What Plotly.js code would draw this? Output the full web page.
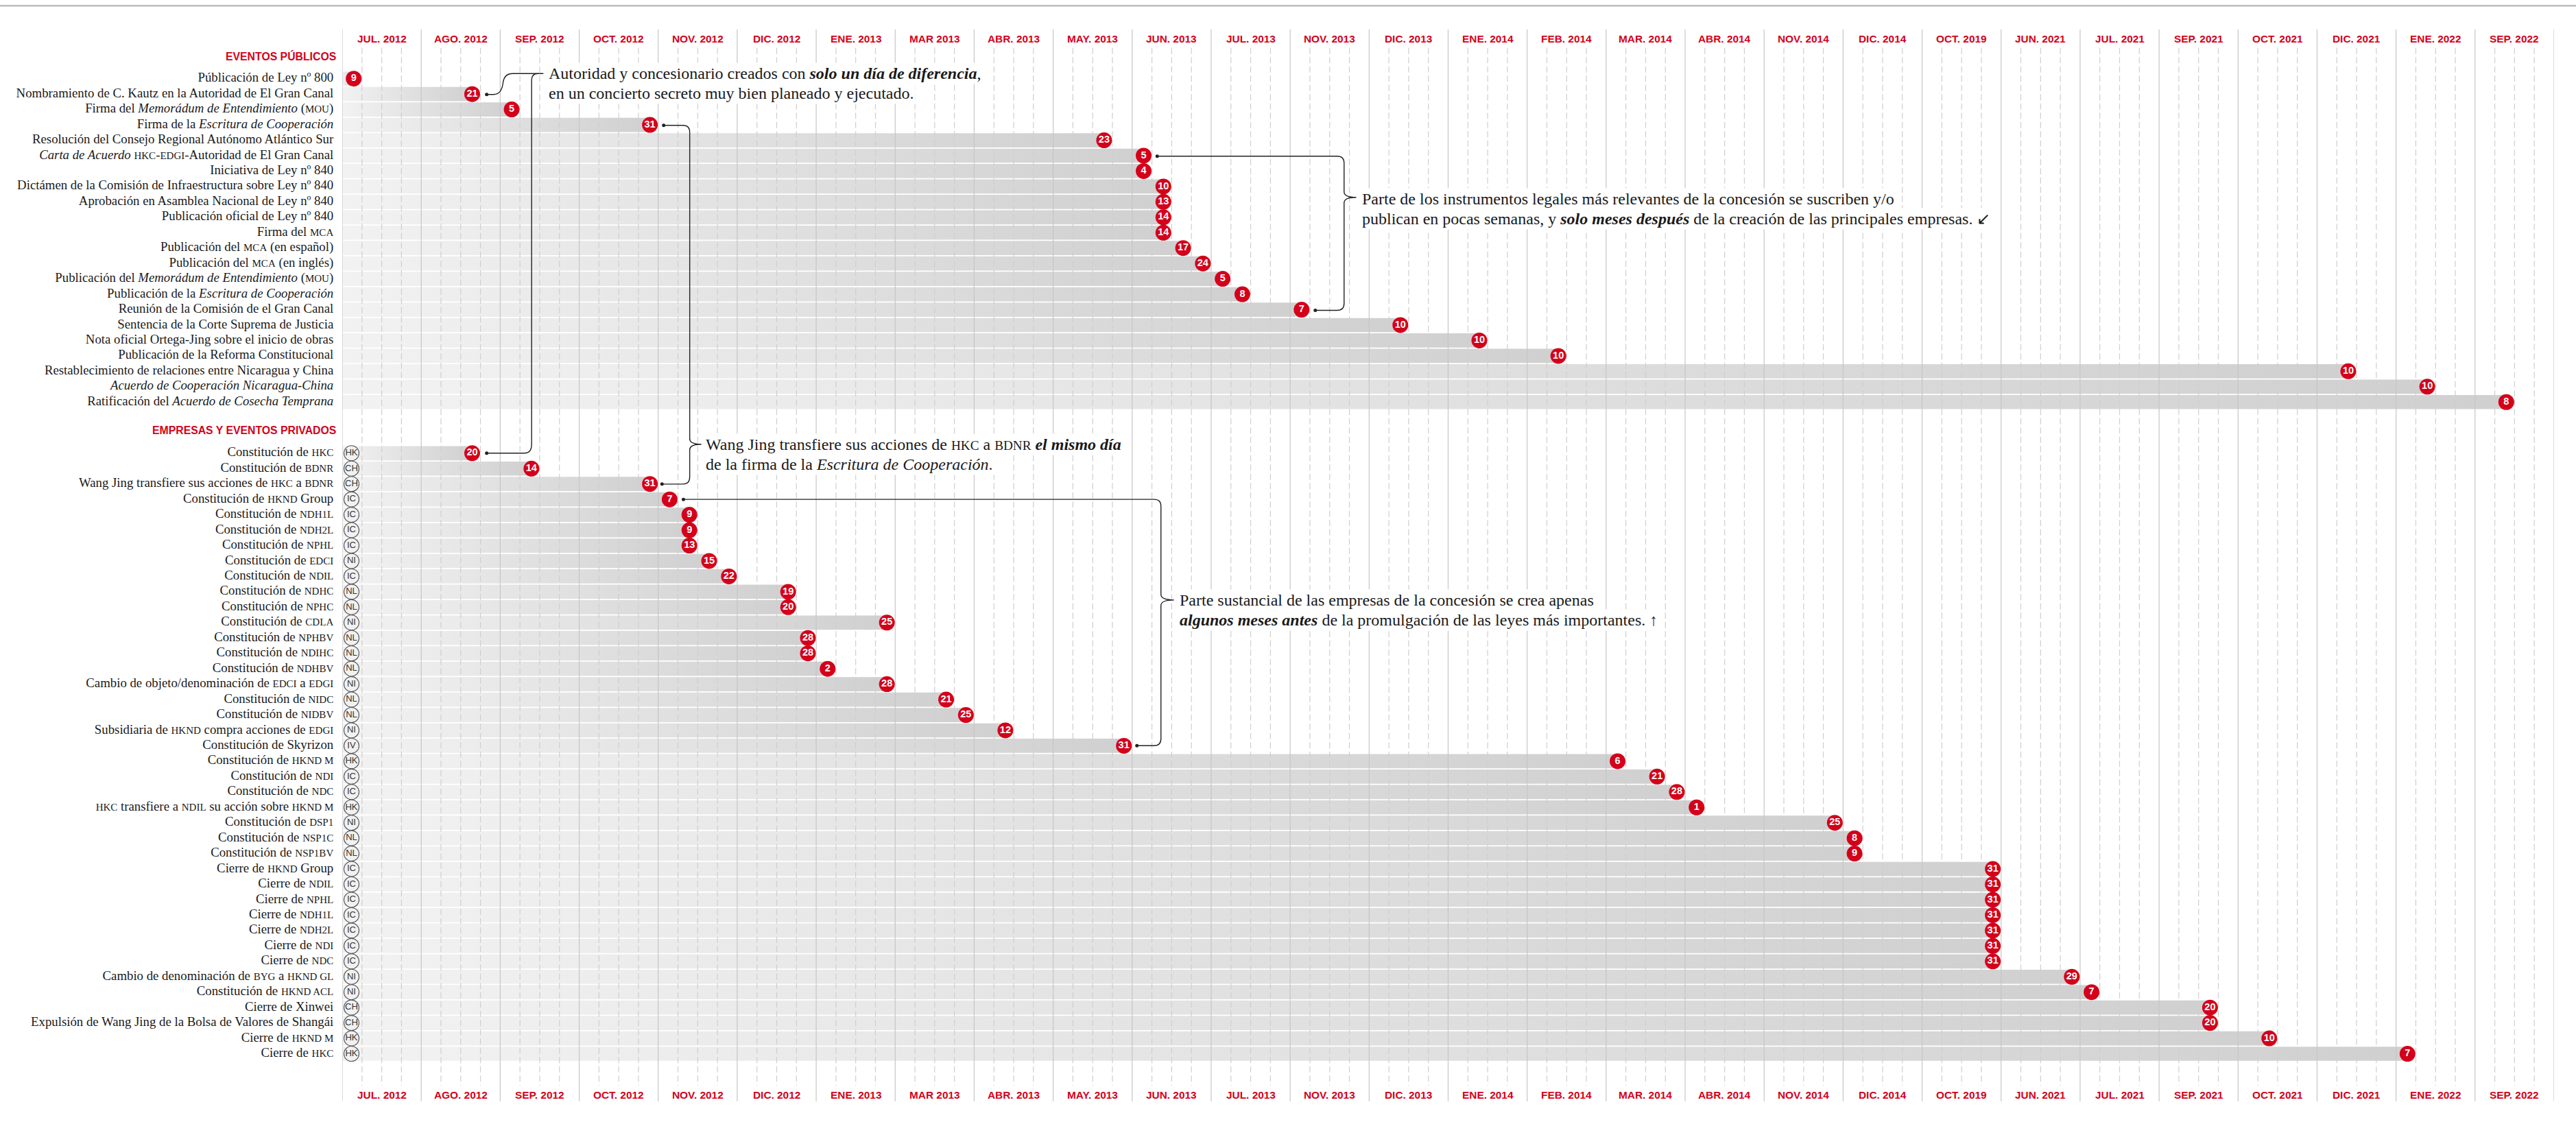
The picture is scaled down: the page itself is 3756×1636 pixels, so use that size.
<!DOCTYPE html>
<html><head><meta charset="utf-8">
<script src="https://cdn.plot.ly/plotly-3.0.1.min.js"></script>
<style>html,body{margin:0;padding:0;background:#fff}#c{width:3756px;height:1636px}</style>
</head><body><div id="c"></div>
<script>
const months=["JUL. 2012","AGO. 2012","SEP. 2012","OCT. 2012","NOV. 2012","DIC. 2012","ENE. 2013","MAR 2013","ABR. 2013","MAY. 2013","JUN. 2013","JUL. 2013","NOV. 2013","DIC. 2013","ENE. 2014","FEB. 2014","MAR. 2014","ABR. 2014","NOV. 2014","DIC. 2014","OCT. 2019","JUN. 2021","JUL. 2021","SEP. 2021","OCT. 2021","DIC. 2021","ENE. 2022","SEP. 2022"];

const publicLabels=["Públicación de Ley nº 800","Nombramiento de C. Kautz en la Autoridad de El Gran Canal","Firma del <i>Memorádum de Entendimiento</i> (MOU)","Firma de la <i>Escritura de Cooperación</i>","Resolución del Consejo Regional Autónomo Atlántico Sur","<i>Carta de Acuerdo</i> HKC-EDGI-Autoridad de El Gran Canal","Iniciativa de Ley nº 840","Dictámen de la Comisión de Infraestructura sobre Ley nº 840","Aprobación en Asamblea Nacional de Ley nº 840","Publicación oficial de Ley nº 840","Firma del MCA","Publicación del MCA (en español)","Publicación del MCA (en inglés)","Publicación del <i>Memorádum de Entendimiento</i> (MOU)","Publicación de la <i>Escritura de Cooperación</i>","Reunión de la Comisión de el Gran Canal","Sentencia de la Corte Suprema de Justicia","Nota oficial Ortega-Jing sobre el inicio de obras","Publicación de la Reforma Constitucional","Restablecimiento de relaciones entre Nicaragua y China","<i>Acuerdo de Cooperación Nicaragua-China</i>","Ratificación del <i>Acuerdo de Cosecha Temprana</i>"];
const publicMonth=[0,1,2,3,9,10,10,10,10,10,10,10,10,11,11,12,13,14,15,25,26,27];
const publicDay=[9,21,5,31,23,5,4,10,13,14,14,17,24,5,8,7,10,10,10,10,10,8];
const publicWeek=[0,2,0,3,2,0,0,1,1,1,1,2,3,0,1,0,1,1,1,1,1,1];

const privateLabels=["Constitución de HKC","Constitución de BDNR","Wang Jing transfiere sus acciones de HKC a BDNR","Constitución de HKND Group","Constitución de NDH1L","Constitución de NDH2L","Constitución de NPHL","Constitución de EDCI","Constitución de NDIL","Constitución de NDHC","Constitución de NPHC","Constitución de CDLA","Constitución de NPHBV","Constitución de NDIHC","Constitución de NDHBV","Cambio de objeto/denominación de EDCI a EDGI","Constitución de NIDC","Constitución de NIDBV","Subsidiaria de HKND compra acciones de EDGI","Constitución de Skyrizon","Constitución de HKND M","Constitución de NDI","Constitución de NDC","HKC transfiere a NDIL su acción sobre HKND M","Constitución de DSP1","Constitución de NSP1C","Constitución de NSP1BV","Cierre de HKND Group","Cierre de NDIL","Cierre de NPHL","Cierre de NDH1L","Cierre de NDH2L","Cierre de NDI","Cierre de NDC","Cambio de denominación de BYG a HKND GL","Constitución de HKND ACL","Cierre de Xinwei","Expulsión de Wang Jing de la Bolsa de Valores de Shangái","Cierre de HKND M","Cierre de HKC"];
const privateCountry=["HK","CH","CH","IC","IC","IC","IC","NI","IC","NL","NL","NI","NL","NL","NL","NI","NL","NL","NI","IV","HK","IC","IC","HK","NI","NL","NL","IC","IC","IC","IC","IC","IC","IC","NI","NI","CH","CH","HK","HK"];
const privateMonth=[1,2,3,4,4,4,4,4,4,5,5,6,5,5,6,6,7,7,8,9,16,16,16,17,18,19,19,20,20,20,20,20,20,20,21,22,23,23,24,26];
const privateDay=[20,14,31,7,9,9,13,15,22,19,20,25,28,28,2,28,21,25,12,31,6,21,28,1,25,8,9,31,31,31,31,31,31,31,29,7,20,20,10,7];
const privateWeek=[2,1,3,0,1,1,1,2,3,2,2,3,3,3,0,3,2,3,1,3,0,2,3,0,3,0,0,3,3,3,3,3,3,3,3,0,2,2,1,0];

const RED="#d4001a", SERIF="Liberation Serif", SANS="Liberation Sans";
const LABEL_SIZE=18.8, NOTE_SIZE=24;
const privateStart=24.32, barHalf=0.461, weekShift=0.58, labelLift=0.09;
const plotL=499.4, plotR=3724, plotT=43.3, plotB=1606, rowTop=115, rowH=22.45;
const monthW=(plotR-plotL)/months.length;
const mx=p=>(p-plotL)/monthW, ry=p=>(p-rowTop)/rowH;
const W=3756,H=1636, pw=plotR-plotL, ph=plotB-plotT;

const sc=s=>s.replace(/\b[A-Z][A-Z0-9]{2,}( (M|GL|ACL))?\b/g,m=>`<span style="font-size:80%">${m}</span>`);
const posX=(m,w)=>m+(w+weekShift)/4;

const rows=[], xs=[], days=[];
publicMonth.forEach((m,i)=>{rows.push(i);xs.push(posX(m,publicWeek[i]));days.push(publicDay[i]);});
privateMonth.forEach((m,i)=>{rows.push(privateStart+i);xs.push(posX(m,privateWeek[i]));days.push(privateDay[i]);});

const traces=[];
rows.forEach((r,i)=>{
  traces.push({type:"scatter",mode:"lines",x:[0,xs[i],xs[i],0,0],y:[r-barHalf,r-barHalf,r+barHalf,r+barHalf,r-barHalf],
    line:{width:0},fill:"toself",
    fillgradient:{type:"horizontal",colorscale:[[0,"#f2f2f2"],[1,"#d0d0d0"]]},
    hoverinfo:"skip",showlegend:false});
});
// month gridlines
{const gx=[],gy=[];for(let m=0;m<=months.length;m++){gx.push(m,m,null);gy.push(ry(plotT),ry(plotB),null);}
 traces.push({type:"scatter",mode:"lines",x:gx,y:gy,line:{color:"#c6c6c6",width:1.2},hoverinfo:"skip",showlegend:false});}
// quarter-month dashes
{const gx=[],gy=[];for(let m=0;m<months.length;m++)for(const q of [.25,.5,.75]){gx.push(m+q,m+q,null);gy.push(ry(70),ry(1582.7),null);}
 traces.push({type:"scatter",mode:"lines",x:gx,y:gy,line:{color:"#cfcfcf",width:1.2,dash:"9px,4.5px"},hoverinfo:"skip",showlegend:false});}
// day markers
traces.push({type:"scatter",mode:"markers+text",x:xs,y:rows,text:days.map(String),textposition:"middle center",
  marker:{size:23,color:RED,line:{width:0}},textfont:{family:SANS,size:14.5,color:"#fff",weight:700},cliponaxis:false,hoverinfo:"skip",showlegend:false});
// country badges
traces.push({type:"scatter",mode:"markers+text",x:privateCountry.map(()=>0.117),y:privateCountry.map((c,i)=>privateStart+i),text:privateCountry,textposition:"middle center",
  marker:{size:22,color:"#f1f1f1",line:{width:1.1,color:"#555"}},textfont:{family:SANS,size:13,color:"#333"},cliponaxis:false,hoverinfo:"skip",showlegend:false});

const annotations=[];
const monthAnn=(t,m,py)=>annotations.push({text:t,x:m+.5,y:ry(py),xref:"x",yref:"y",showarrow:false,xanchor:"center",yanchor:"middle",
  font:{family:SANS,size:15.4,color:RED,weight:700}});
months.forEach((t,m)=>{monthAnn(t,m,56.7);monthAnn(t,m,1596.7);});
const header=(t,py)=>annotations.push({text:t,x:(492-plotL)/pw,y:(plotB-py)/ph,xref:"paper",yref:"paper",showarrow:false,xanchor:"right",yanchor:"middle",
  font:{family:SANS,size:15.8,color:RED,weight:700}});
header("EVENTOS PÚBLICOS",82.7);header("EMPRESAS Y EVENTOS PRIVADOS",627.7);
const note=(t,px,py)=>annotations.push({text:sc(t),x:mx(px),y:ry(py),xref:"x",yref:"y",showarrow:false,xanchor:"left",yanchor:"middle",
  bgcolor:"#fff",borderpad:2,font:{family:SERIF,size:NOTE_SIZE,color:"#1a1a1a"}});
note("Autoridad y concesionario creados con <b><i>solo un día de diferencia</i></b>,",797,107);
note("en un concierto secreto muy bien planeado y ejecutado.",797,136);
note("Parte de los instrumentos legales más relevantes de la concesión se suscriben y/o",1983.6,290);
note("publican en pocas semanas, y <b><i>solo meses después</i></b> de la creación de las principales empresas. ↙",1983.6,319.3);
note("Wang Jing transfiere sus acciones de HKC a BDNR <b><i>el mismo día</i></b>",1026,648);
note("de la firma de la <i>Escritura de Cooperación</i>.",1026,677);
note("Parte sustancial de las empresas de la concesión se crea apenas",1717.7,875);
note("<b><i>algunos meses antes</i></b> de la promulgación de las leyes más importantes. ↑",1717.7,904.3);

// connectors, written in page pixels and converted to axis units
const P=(s)=>s.replace(/(-?[\d.]+),(-?[\d.]+)/g,(m,a,b)=>mx(+a)+","+ry(+b));
const connectors=[
 "M792.7,107.5 L748,107.5 Q736,107.5 734,120 Q732,138 720,138 L710,138",
 "M785,107.5 Q775.5,107.5 775.5,117 L775.5,648 Q775.5,661 765,661 L710,661",
 "M968,183 L996,183 Q1006,183 1006,193 L1006,640 Q1006,648 1023,648 Q1006,648 1006,656 L1006,696 Q1006,706 996,706 L965.6,706",
 "M1687.5,228 L1950,228 Q1960,228 1960,238 L1960,280 Q1960,288 1977.7,288 Q1960,288 1960,296 L1960,442.7 Q1960,452.7 1950,452.7 L1918,452.7",
 "M996.8,728.3 L1683,728.3 Q1693,728.3 1693,738 L1693,867 Q1693,875 1712,875 Q1693,875 1693,883 L1693,1077 Q1693,1087.3 1683,1087.3 L1658,1087.3"
];
const shapes=connectors.map(c=>({type:"path",path:P(c),xref:"x",yref:"y",layer:"above",line:{color:"#222",width:1.4},fillcolor:"rgba(0,0,0,0)"}));
traces.push({type:"scatter",mode:"markers",x:[710,710,965.6,968,1687.5,1918,996.8,1658].map(mx),y:[138,661,706,183,228,452.7,728.3,1087.3].map(ry),
  marker:{size:5,color:"#222"},hoverinfo:"skip",showlegend:false});
// top rule across the page
shapes.push({type:"line",xref:"paper",yref:"paper",x0:-plotL/pw,x1:(W-plotL)/pw,y0:(plotB-8.7)/ph,y1:(plotB-8.7)/ph,line:{color:"#b5b5b5",width:2.4}});

const layout={width:W,height:H,paper_bgcolor:"#fff",plot_bgcolor:"#fff",showlegend:false,
  margin:{l:plotL,r:W-plotR,t:plotT,b:H-plotB,pad:0},
  xaxis:{range:[0,months.length],showgrid:false,zeroline:false,showline:false,showticklabels:false,ticks:""},
  yaxis:{range:[ry(plotB),ry(plotT)],showgrid:false,zeroline:false,showline:false,
    tickmode:"array",tickvals:rows.map(r=>r-labelLift),ticktext:publicLabels.concat(privateLabels).map(sc),ticks:"outside",ticklen:8,tickcolor:"rgba(0,0,0,0)",tickwidth:1,
    tickfont:{family:SERIF,size:LABEL_SIZE,color:"#1a1a1a"}},
  annotations,shapes,hovermode:false};
Plotly.newPlot("c",traces,layout,{displayModeBar:false,staticPlot:true});
</script></body></html>
